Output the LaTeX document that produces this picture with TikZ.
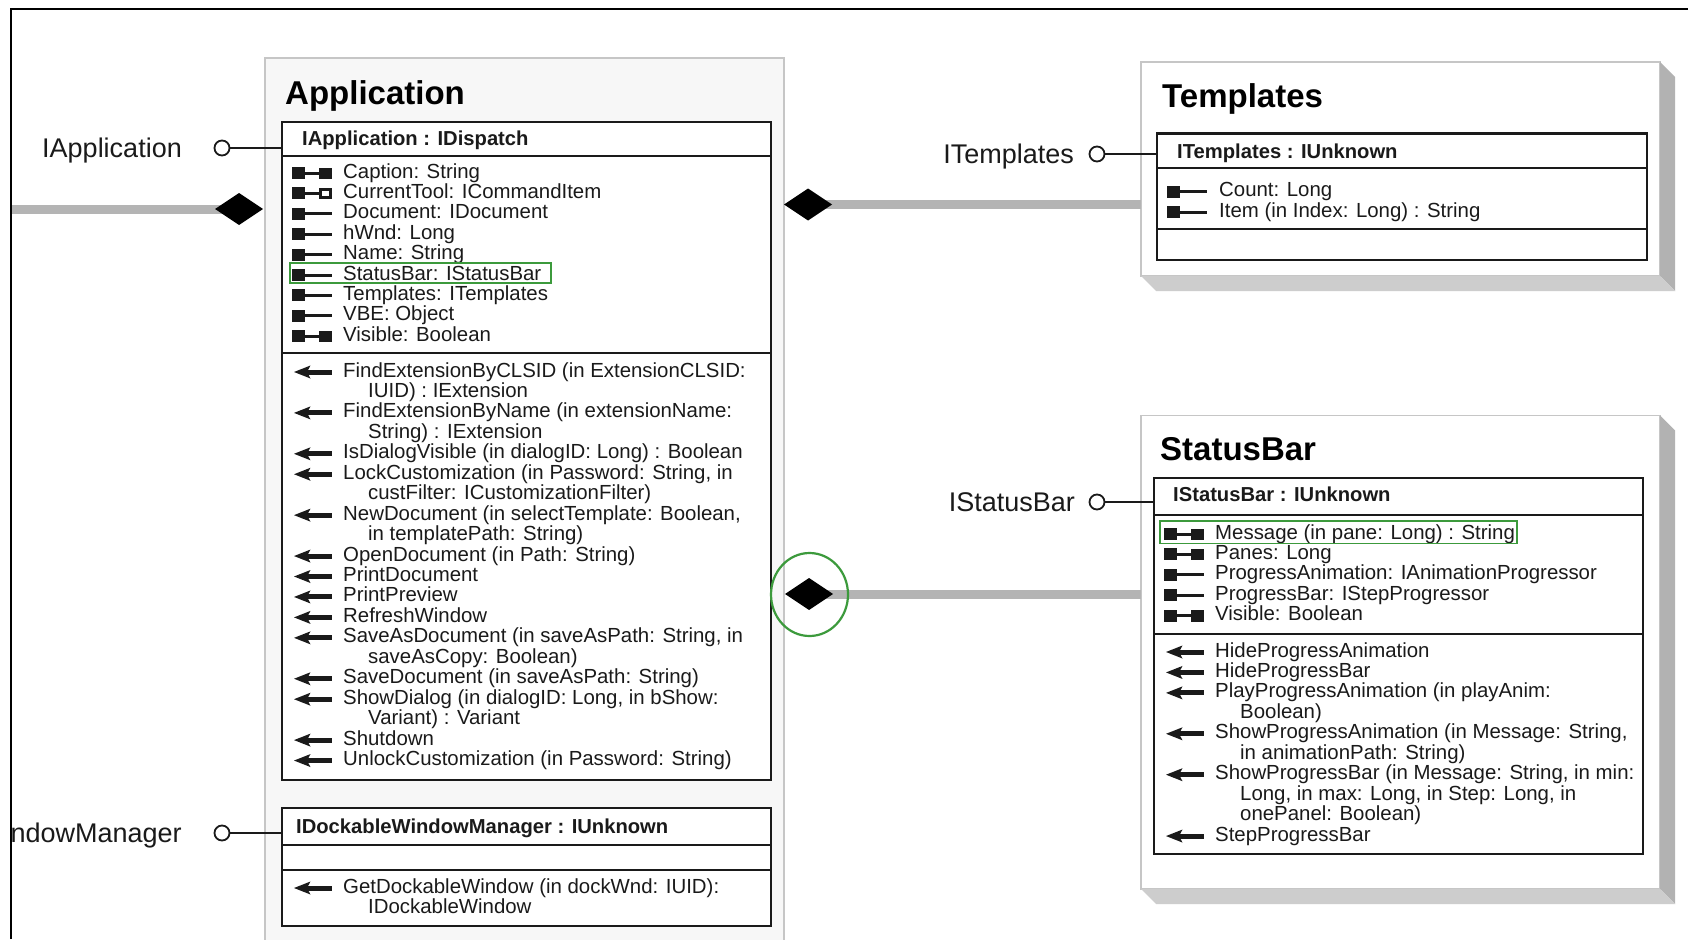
\documentclass[tikz,border=0pt]{standalone}
\usepackage{fontspec}
\setmainfont{Liberation Sans}
\usetikzlibrary{shapes.geometric}

\definecolor{inkc}{HTML}{1A1A1A}
\definecolor{panelfill}{HTML}{F7F7F7}
\definecolor{panelrule}{HTML}{C6C6C6}
\definecolor{sideface}{HTML}{B2B2B2}
\definecolor{baseface}{HTML}{CDCDCD}
\definecolor{linkgray}{HTML}{B4B4B4}
\definecolor{markgreen}{HTML}{3C9A3C}

\newcommand\memfont{\fontsize{20.4}{20.4}\selectfont}
\newcommand\hdrfont{\fontsize{20.2}{20.2}\selectfont\bfseries}
\newcommand\ttlfont{\fontsize{33}{33}\selectfont\bfseries}
\newcommand\lblfont{\fontsize{27}{27}\selectfont}

% member row: name, icon pic, icon x, text x, row centre y, text
\newcommand\entry[6]{\pic at (#3,#5+2) {#2}; \node[mem] (#1) at (#4,#5+7) {#6};}
% wrapped continuation of a member row: name, text x, row centre y, text
\newcommand\contd[4]{\node[mem] (#1) at (#2+25,#3+7) {#4};}

\tikzset{
  rwp/.pic={\fill[inkc] (-1,-6) rectangle (11.5,6);
            \draw[inkc,line width=3pt] (11,0) -- (27,0);
            \fill[inkc] (26,-5.5) rectangle (39,6);},
  rop/.pic={\fill[inkc] (-1,-6) rectangle (11.5,6);
            \draw[inkc,line width=3pt] (11,0) -- (39,0);},
  refp/.pic={\fill[inkc] (-1,-6) rectangle (11.5,6);
             \draw[inkc,line width=3pt] (11,0) -- (27,0);
             \draw[inkc,line width=3pt] (27.5,-4) rectangle (37.5,4.5);},
  meth/.pic={\fill[inkc] (0,0) -- (16.5,-6.5) -- (13,0) -- (16.5,6.5) -- cycle;
             \draw[inkc,line width=5pt] (12,0) -- (38,0);},
}

\begin{document}
\begin{tikzpicture}[x=1pt,y=-1pt,
  panel/.style={draw=panelrule, line width=1.5pt, fill=white, anchor=north west,
                inner sep=0pt, outer sep=0pt},
  ifbox/.style={draw=inkc, line width=2pt, fill=white, anchor=north west,
                inner sep=0pt, outer sep=0pt},
  rule/.style={draw=inkc, line width=2pt},
  title/.style={font=\ttlfont, anchor=base west, inner sep=0pt},
  hdr/.style={font=\hdrfont, text=inkc, anchor=base west, inner sep=0pt},
  mem/.style={font=\memfont, text=inkc, anchor=base west, inner sep=0pt},
  lbl/.style={font=\lblfont, text=inkc, anchor=base east, inner sep=0pt},
  lolly/.style={circle, draw=inkc, line width=1.8pt, fill=white,
                minimum size=15pt, inner sep=0pt, outer sep=0pt},
  stem/.style={draw=inkc, line width=1.6pt},
  agg/.style={diamond, fill=black, minimum width=48pt, minimum height=32pt,
              inner sep=0pt, outer sep=0pt, aspect=1.5},
  link/.style={draw=linkgray, line width=9pt},
  hilite/.style={draw=markgreen, line width=1.4pt},
]
\useasboundingbox (0,0) rectangle (1688,939);
\fill[white] (0,0) rectangle (1688,939);

\begin{scope}
\clip (12,10) rectangle (1688,939);

% ---------- class panels ----------
\node[panel, fill=panelfill, minimum width=519pt, minimum height=900pt] (app) at (265,58) {};

\node[panel, minimum width=519pt, minimum height=214pt] (tpl) at (1141,62) {};
\fill[sideface] (tpl.north east) -- ++(15,15) -- ++(0,214) -- (tpl.south east) -- cycle;
\fill[baseface] (tpl.south west) -- ++(15,15) -- ++(519,0) -- (tpl.south east) -- cycle;

\node[panel, minimum width=519pt, minimum height=473.5pt] (sb) at (1141,415.5) {};
\fill[sideface] (sb.north east) -- ++(15,15) -- ++(0,473.5) -- (sb.south east) -- cycle;
\fill[baseface] (sb.south west) -- ++(15,15) -- ++(519,0) -- (sb.south east) -- cycle;

\node[title] (appT) at (285,105) {Application};
\node[title] (tplT) at (1162,108) {Templates};
\node[title] (sbT) at (1160,460) {StatusBar};

% ---------- aggregation links ----------
\coordinate (leftend) at (0,209);
\coordinate (d1) at (239,209);
\coordinate (d2) at (808,204.5);
\coordinate (d3) at (809,594);
\draw[link] (leftend) -- (d1);
\draw[link] (d2) -- (d2 -| tpl.west);
\draw[link] (d3) -- (d3 -| sb.west);
\node[agg] (a1) at (d1) {};
\node[agg] (a2) at (d2) {};
\node[agg] (a3) at (d3) {};

% ---------- IApplication ----------
\node[ifbox, minimum width=489pt, minimum height=658pt] (appI) at (282,122) {};
\draw[rule] (282,156) -- (771,156);
\draw[rule] (282,353) -- (771,353);
\node[hdr] (appH) at (302,146) {IApplication : IDispatch};

\entry{ap0}{rwp}{293}{343}{171}{Caption: String}
\entry{ap1}{refp}{293}{343}{191.4}{CurrentTool: ICommandItem}
\entry{ap2}{rop}{293}{343}{211.8}{Document: IDocument}
\entry{ap3}{rop}{293}{343}{232.2}{hWnd: Long}
\entry{ap4}{rop}{293}{343}{252.6}{Name: String}
\entry{ap5}{rop}{293}{343}{273}{StatusBar: IStatusBar}
\entry{ap6}{rop}{293}{343}{293.4}{Templates: ITemplates}
\entry{ap7}{rop}{293}{343}{313.8}{VBE: Object}
\entry{ap8}{rwp}{293}{343}{334.2}{Visible: Boolean}

\entry{am0}{meth}{294}{343}{370}{FindExtensionByCLSID (in ExtensionCLSID:}
\contd{am1}{343}{390.45}{IUID) : IExtension}
\entry{am2}{meth}{294}{343}{410.9}{FindExtensionByName (in extensionName:}
\contd{am3}{343}{431.35}{String) : IExtension}
\entry{am4}{meth}{294}{343}{451.8}{IsDialogVisible (in dialogID: Long) : Boolean}
\entry{am5}{meth}{294}{343}{472.25}{LockCustomization (in Password: String, in}
\contd{am6}{343}{492.7}{custFilter: ICustomizationFilter)}
\entry{am7}{meth}{294}{343}{513.15}{NewDocument (in selectTemplate: Boolean,}
\contd{am8}{343}{533.6}{in templatePath: String)}
\entry{am9}{meth}{294}{343}{554.05}{OpenDocument (in Path: String)}
\entry{am10}{meth}{294}{343}{574.5}{PrintDocument}
\entry{am11}{meth}{294}{343}{594.95}{PrintPreview}
\entry{am12}{meth}{294}{343}{615.4}{RefreshWindow}
\entry{am13}{meth}{294}{343}{635.85}{SaveAsDocument (in saveAsPath: String, in}
\contd{am14}{343}{656.3}{saveAsCopy: Boolean)}
\entry{am15}{meth}{294}{343}{676.75}{SaveDocument (in saveAsPath: String)}
\entry{am16}{meth}{294}{343}{697.2}{ShowDialog (in dialogID: Long, in bShow:}
\contd{am17}{343}{717.65}{Variant) : Variant}
\entry{am18}{meth}{294}{343}{738.1}{Shutdown}
\entry{am19}{meth}{294}{343}{758.55}{UnlockCustomization (in Password: String)}

% ---------- IDockableWindowManager ----------
\node[ifbox, minimum width=489pt, minimum height=118pt] (dwI) at (282,808) {};
\draw[rule] (282,845) -- (771,845);
\draw[rule] (282,870) -- (771,870);
\node[hdr] (dwH) at (296,833) {IDockableWindowManager : IUnknown};
\entry{dw0}{meth}{294}{343}{886}{GetDockableWindow (in dockWnd: IUID):}
\contd{dw1}{343}{906.4}{IDockableWindow}

% ---------- ITemplates ----------
\node[ifbox, minimum width=490pt, minimum height=126pt] (tplI) at (1157,133.5) {};
\draw[rule] (1157,168) -- (1647,168);
\draw[rule] (1157,229) -- (1647,229);
\node[hdr] (tplH) at (1177,158) {ITemplates : IUnknown};
\entry{tp0}{rop}{1168}{1219}{189.5}{Count: Long}
\entry{tp1}{rop}{1168}{1219}{210}{Item (in Index: Long) : String}

% ---------- IStatusBar ----------
\node[ifbox, minimum width=489pt, minimum height=375.5pt] (sbI) at (1154,478) {};
\draw[rule] (1154,514.5) -- (1643,514.5);
\draw[rule] (1154,634) -- (1643,634);
\node[hdr] (sbH) at (1173,501) {IStatusBar : IUnknown};

\entry{sp0}{rwp}{1165}{1215}{532}{Message (in pane: Long) : String}
\entry{sp1}{rwp}{1165}{1215}{552.45}{Panes: Long}
\entry{sp2}{rop}{1165}{1215}{572.9}{ProgressAnimation: IAnimationProgressor}
\entry{sp3}{rop}{1165}{1215}{593.35}{ProgressBar: IStepProgressor}
\entry{sp4}{rwp}{1165}{1215}{613.8}{Visible: Boolean}

\entry{sm0}{meth}{1166}{1215}{650}{HideProgressAnimation}
\entry{sm1}{meth}{1166}{1215}{670.45}{HideProgressBar}
\entry{sm2}{meth}{1166}{1215}{690.9}{PlayProgressAnimation (in playAnim:}
\contd{sm3}{1215}{711.35}{Boolean)}
\entry{sm4}{meth}{1166}{1215}{731.8}{ShowProgressAnimation (in Message: String,}
\contd{sm5}{1215}{752.25}{in animationPath: String)}
\entry{sm6}{meth}{1166}{1215}{772.7}{ShowProgressBar (in Message: String, in min:}
\contd{sm7}{1215}{793.15}{Long, in max: Long, in Step: Long, in}
\contd{sm8}{1215}{813.6}{onePanel: Boolean)}
\entry{sm9}{meth}{1166}{1215}{834.05}{StepProgressBar}

% ---------- interface lollipops ----------
\node[lbl] (lbA) at (182,157.5) {IApplication};
\node[lolly] (loA) at (222,148) {};
\draw[stem] (loA.east) -- (loA.east -| appI.west);

\node[lbl] (lbD) at (182,842) {IDockableWindowManager};
\node[lolly] (loD) at (222,833) {};
\draw[stem] (loD.east) -- (loD.east -| dwI.west);

\node[lbl] (lbT) at (1074,163.5) {ITemplates};
\node[lolly] (loT) at (1097,154) {};
\draw[stem] (loT.east) -- (loT.east -| tplI.west);

\node[lbl] (lbS) at (1075,511.5) {IStatusBar};
\node[lolly] (loS) at (1097,502) {};
\draw[stem] (loS.east) -- (loS.east -| sbI.west);

% ---------- highlights ----------
\draw[hilite] (290,263) rectangle (551,283);
\draw[hilite] (1160,521) rectangle (1517,543.5);
\draw[draw=markgreen, line width=2.2pt] (809.5,594.5) ellipse [x radius=38.5, y radius=41.5];
\end{scope}

% ---------- sheet frame ----------
\draw[line width=2pt] (11,939) -- (11,9) -- (1688,9);
\end{tikzpicture}
\end{document}
